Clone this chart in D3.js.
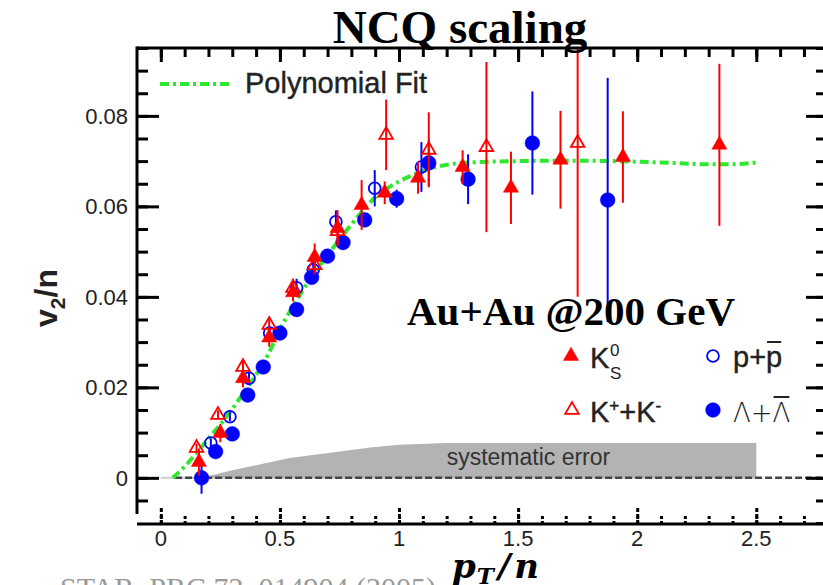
<!DOCTYPE html>
<html>
<head>
<meta charset="utf-8">
<script src="https://cdn.jsdelivr.net/npm/d3@7"></script>
<style>
  body { margin: 0; background: #fff; }
  svg { display: block; }
</style>
</head>
<body>
<svg id="chart" width="823" height="585"></svg>
<script>
// ---- data: v2/n versus pT/n (number-of-constituent-quark scaling) ----
const k0sPt  = [0.16, 0.25, 0.345, 0.455, 0.555, 0.646, 0.742, 0.843, 0.94, 1.08, 1.267, 1.47, 1.678, 1.94, 2.345];
const k0sV2  = [0.0035, 0.0099, 0.022, 0.031, 0.041, 0.0488, 0.0552, 0.0603, 0.063, 0.0663, 0.0687, 0.0641, 0.0703, 0.0709, 0.0736];
const k0sErr = [0.003, 0.002, 0.002, 0.002, 0.002, 0.003, 0.004, 0.0055, 0.0025, 0.0035, 0.0037, 0.008, 0.0108, 0.0101, 0.0179];

const kchPt  = [0.15, 0.24, 0.345, 0.455, 0.555, 0.646, 0.742, 0.946, 1.125, 1.367, 1.75];
const kchV2  = [0.0066, 0.0139, 0.0245, 0.0338, 0.042, 0.047, 0.0545, 0.0758, 0.0725, 0.0731, 0.074];
const kchErr = [0.001, 0.001, 0.0015, 0.0015, 0.002, 0.002, 0.003, 0.0078, 0.0083, 0.0188, 0.034];

const ppPt   = [0.21, 0.29, 0.37, 0.457, 0.57, 0.64, 0.735, 0.898, 1.094];
const ppV2   = [0.0077, 0.0135, 0.022, 0.032, 0.042, 0.046, 0.0566, 0.064, 0.0687];
const ppErr  = [0.001, 0.001, 0.0015, 0.0015, 0.002, 0.002, 0.0025, 0.004, 0.0055];

const lamPt  = [0.171, 0.23, 0.30, 0.365, 0.43, 0.50, 0.57, 0.633, 0.70, 0.765, 0.856, 0.99, 1.125, 1.29, 1.56, 1.876];
const lamV2  = [0.0, 0.0058, 0.0097, 0.0183, 0.0245, 0.032, 0.0372, 0.0443, 0.049, 0.052, 0.057, 0.0617, 0.0696, 0.066, 0.074, 0.0614];
const lamErr = [0.0035, 0.0015, 0.0012, 0.001, 0.001, 0.001, 0.001, 0.001, 0.001, 0.0012, 0.0015, 0.002, 0.005, 0.0055, 0.0114, 0.027];

// polynomial fit curve
const fitPt = [0.05, 0.1, 0.15, 0.2, 0.25, 0.3, 0.35, 0.4, 0.45, 0.5, 0.55, 0.6, 0.7, 0.8, 0.9, 1.0, 1.1, 1.2, 1.3, 1.5, 1.7, 1.9, 2.1, 2.3, 2.4, 2.5];
const fitV2 = [0.0, 0.0025, 0.0055, 0.0087, 0.0118, 0.0152, 0.019, 0.0228, 0.0272, 0.0328, 0.0375, 0.0418, 0.0492, 0.056, 0.062, 0.0655, 0.0678, 0.0692, 0.0697, 0.07, 0.0701, 0.07, 0.0697, 0.0693, 0.0693, 0.0697];

// systematic error band
const sysPt = [0, 0.17, 0.3, 0.4, 0.54, 0.72, 0.88, 1.0, 1.2, 2.5];
const sysV2 = [0, 0, 0.0017, 0.0028, 0.0044, 0.0056, 0.0067, 0.0073, 0.0077, 0.0077];

// axes
const xTicks = [0, 0.5, 1, 1.5, 2, 2.5];
const xTickLabels = ["0", "0.5", "1", "1.5", "2", "2.5"];
const yTicks = [0, 0.02, 0.04, 0.06, 0.08];
const yTickLabels = ["0", "0.02", "0.04", "0.06", "0.08"];

// ---- drawing ----
const RED = "#ff0000", BLUE = "#0000ff", GREEN = "#2ee82e";
const SANS = "'Liberation Sans', Arial, sans-serif";
const SERIF = "'Liberation Serif', 'Times New Roman', serif";

const svg = d3.select("#chart");
const L = 137, R = 823, T = 48, B = 524;

const x = d3.scaleLinear().domain([-0.1, 2.78]).range([L, R]);
const y = d3.scaleLinear().domain([-0.0102, 0.095]).range([B, T]);

svg.append("defs").append("clipPath").attr("id", "plotClip")
  .append("rect").attr("x", L).attr("y", T).attr("width", R - L).attr("height", B - T);

const plot = svg.append("g").attr("clip-path", "url(#plotClip)");

// systematic error band
const sysData = sysPt.map((p, i) => ({ p, v: sysV2[i] }));
plot.append("line")
  .attr("x1", x(sysPt[0])).attr("x2", x(sysPt[sysPt.length - 1]))
  .attr("y1", y(0)).attr("y2", y(0))
  .attr("stroke", "#cfcfcf").attr("stroke-width", 2);
plot.append("path")
  .datum(sysData)
  .attr("fill", "#b3b3b3")
  .attr("d", d3.area().x(d => x(d.p)).y0(y(0)).y1(d => y(d.v)));

plot.append("text")
  .attr("x", x(1.2)).attr("y", y(0.0028))
  .attr("font-family", SANS).attr("font-size", 23).attr("fill", "#333")
  .text("systematic error");

// zero line
plot.append("line")
  .attr("x1", x(0.06)).attr("x2", R)
  .attr("y1", y(0)).attr("y2", y(0))
  .attr("stroke", "#444").attr("stroke-width", 2.5)
  .attr("stroke-dasharray", "7,3");

// fit curve
const fitData = fitPt.map((p, i) => ({ p, v: fitV2[i] }));
plot.append("path")
  .datum(fitData)
  .attr("fill", "none")
  .attr("stroke", GREEN).attr("stroke-width", 4)
  .attr("stroke-dasharray", "9,4,3,4")
  .attr("d", d3.line().x(d => x(d.p)).y(d => y(d.v)).curve(d3.curveMonotoneX));

// data series
function series(pt, v2, err, color, shape, filled, size) {
  const data = pt.map((p, i) => ({ p, v: v2[i], e: err[i] }));
  const g = plot.append("g");
  g.selectAll("line").data(data).enter().append("line")
    .attr("x1", d => x(d.p)).attr("x2", d => x(d.p))
    .attr("y1", d => y(d.v - d.e)).attr("y2", d => y(d.v + d.e))
    .attr("stroke", color).attr("stroke-width", 2);
  g.selectAll("path").data(data).enter().append("path")
    .attr("transform", d => `translate(${x(d.p)},${y(d.v)})`)
    .attr("d", d3.symbol(shape, size)())
    .attr("fill", filled ? color : "none")
    .attr("stroke", color).attr("stroke-width", filled ? 0.5 : 1.8);
}
series(ppPt, ppV2, ppErr, BLUE, d3.symbolCircle, false, 110);
series(lamPt, lamV2, lamErr, BLUE, d3.symbolCircle, true, 170);
series(k0sPt, k0sV2, k0sErr, RED, d3.symbolTriangle, true, 100);
series(kchPt, kchV2, kchErr, RED, d3.symbolTriangle, false, 80);

// ---- frame and ticks ----
const minorX = d3.range(-0.1, 2.78, 0.1).map(v => +v.toFixed(2)).filter(v => v >= -0.05);
const minorY = d3.range(-0.01, 0.0951, 0.005).map(v => +v.toFixed(3));

function tickGroup(axisFn, scale, values, size, tx, ty, dash) {
  const g = svg.append("g").attr("transform", `translate(${tx},${ty})`)
    .call(axisFn(scale).tickValues(values).tickSize(size).tickFormat(""));
  g.select(".domain").remove();
  g.selectAll(".tick line").attr("stroke", "#000").attr("stroke-width", 3)
    .attr("stroke-dasharray", dash || null);
  return g;
}
// bottom
tickGroup(d3.axisTop, x, minorX, 10, 0, B, "3,2");
tickGroup(d3.axisTop, x, xTicks, 16, 0, B, "4,2");
// top
tickGroup(d3.axisBottom, x, minorX, 9, 0, T);
tickGroup(d3.axisBottom, x, xTicks, 14, 0, T);
// left
tickGroup(d3.axisRight, y, minorY.filter(v => v > -0.008), 11, L, 0);
tickGroup(d3.axisRight, y, yTicks, 22, L, 0);
// right
tickGroup(d3.axisLeft, y, minorY, 7, R, 0);
tickGroup(d3.axisLeft, y, yTicks, 17, R, 0);

svg.append("line").attr("x1", L).attr("x2", R).attr("y1", T).attr("y2", T)
  .attr("stroke", "#000").attr("stroke-width", 3);
svg.append("line").attr("x1", L).attr("x2", R).attr("y1", B).attr("y2", B)
  .attr("stroke", "#000").attr("stroke-width", 3);
svg.append("line").attr("x1", L).attr("x2", L).attr("y1", T - 1.5).attr("y2", y(-0.008))
  .attr("stroke", "#000").attr("stroke-width", 3);

// tick labels
svg.selectAll("text.xl").data(xTicks).enter().append("text")
  .attr("x", d => x(d)).attr("y", B + 22)
  .attr("text-anchor", "middle")
  .attr("font-family", SANS).attr("font-size", 22).attr("fill", "#222")
  .text((d, i) => xTickLabels[i]);
svg.selectAll("text.yl").data(yTicks).enter().append("text")
  .attr("x", L - 9).attr("y", d => y(d) + 8)
  .attr("text-anchor", "end")
  .attr("font-family", SANS).attr("font-size", 22).attr("fill", "#222")
  .text((d, i) => yTickLabels[i]);

// axis titles
const yt = svg.append("text")
  .attr("transform", "translate(57,298) rotate(-90)")
  .attr("text-anchor", "middle")
  .attr("font-family", SANS).attr("font-size", 32).attr("font-weight", "bold").attr("fill", "#222");
yt.append("tspan").text("v");
yt.append("tspan").attr("font-size", 21).attr("dy", 8).text("2");
yt.append("tspan").attr("dy", -8).text("/n");

const xt = svg.append("text")
  .attr("x", 452).attr("y", 578)
  .attr("font-family", "'DejaVu Serif', serif").attr("font-size", 34)
  .attr("font-weight", "bold").attr("font-style", "italic").attr("fill", "#000");
xt.append("tspan").text("p");
xt.append("tspan").attr("font-size", 23).attr("dy", 6).attr("dx", 1).text("T");
xt.append("tspan").attr("dy", -6).attr("dx", 4).text("/");
xt.append("tspan").attr("dx", 4).text("n");

// title and annotations
svg.append("text")
  .attr("x", 460).attr("y", 43).attr("text-anchor", "middle")
  .attr("font-family", SERIF).attr("font-size", 47).attr("font-weight", "bold")
  .text("NCQ scaling");

svg.append("text")
  .attr("x", 407).attr("y", 325)
  .attr("font-family", SERIF).attr("font-size", 41).attr("font-weight", "bold")
  .text("Au+Au @200 GeV");

svg.append("text")
  .attr("x", 60).attr("y", 598)
  .attr("font-family", SERIF).attr("font-size", 30).attr("fill", "#999")
  .text("STAR, PRC 72, 014904 (2005)");

// fit legend
svg.append("line")
  .attr("x1", 160).attr("x2", 232).attr("y1", 84).attr("y2", 84)
  .attr("stroke", GREEN).attr("stroke-width", 4).attr("stroke-dasharray", "9,4,3,4");
svg.append("text")
  .attr("x", 245).attr("y", 93)
  .attr("font-family", SANS).attr("font-size", 29).attr("fill", "#222")
  .attr("stroke", "#222").attr("stroke-width", 0.4)
  .text("Polynomial Fit");

// particle legend
const leg = svg.append("g");
function legMarker(cx, cy, color, shape, filled, size) {
  leg.append("path")
    .attr("transform", `translate(${cx},${cy})`)
    .attr("d", d3.symbol(shape, size)())
    .attr("fill", filled ? color : "none")
    .attr("stroke", color).attr("stroke-width", filled ? 0.5 : 1.8);
}
legMarker(571, 356, RED, d3.symbolTriangle, true, 100);
legMarker(713, 356, BLUE, d3.symbolCircle, false, 110);
legMarker(572, 410, RED, d3.symbolTriangle, false, 80);
legMarker(713, 410, BLUE, d3.symbolCircle, true, 170);

const LF = 29;
function legText(xp, yp) {
  return leg.append("text").attr("x", xp).attr("y", yp)
    .attr("font-family", SANS).attr("font-size", LF).attr("fill", "#222")
    .attr("stroke", "#222").attr("stroke-width", 0.4);
}
// K0_S
legText(590, 368).text("K");
leg.append("text").attr("x", 610).attr("y", 356)
  .attr("font-family", SANS).attr("font-size", 17).attr("fill", "#222").text("0");
leg.append("text").attr("x", 610).attr("y", 379)
  .attr("font-family", SANS).attr("font-size", 17).attr("fill", "#222").text("S");
// K+ + K-
const kc = legText(590, 422);
kc.append("tspan").text("K");
kc.append("tspan").attr("font-size", 17).attr("dy", -11).text("+");
kc.append("tspan").attr("dy", 11).text("+K");
kc.append("tspan").attr("font-size", 17).attr("dy", -11).text("-");
// p + pbar
const pp = legText(733, 367).text("p+p");
// Lambda + Lambdabar
const ll = leg.append("text").attr("x", 733).attr("y", 422)
  .attr("font-family", "'DejaVu Sans', sans-serif").attr("font-weight", "300")
  .attr("font-size", 26).attr("fill", "#222").text("Λ+Λ");

function overline(t) {
  const node = t.node();
  const n = node.getNumberOfChars();
  const ext = node.getExtentOfChar(n - 1);
  leg.append("line")
    .attr("x1", ext.x + 1).attr("x2", ext.x + ext.width - 1)
    .attr("y1", +t.attr("y") - 25).attr("y2", +t.attr("y") - 25)
    .attr("stroke", "#222").attr("stroke-width", 2);
}
overline(pp);
overline(ll);
</script>
</body>
</html>
